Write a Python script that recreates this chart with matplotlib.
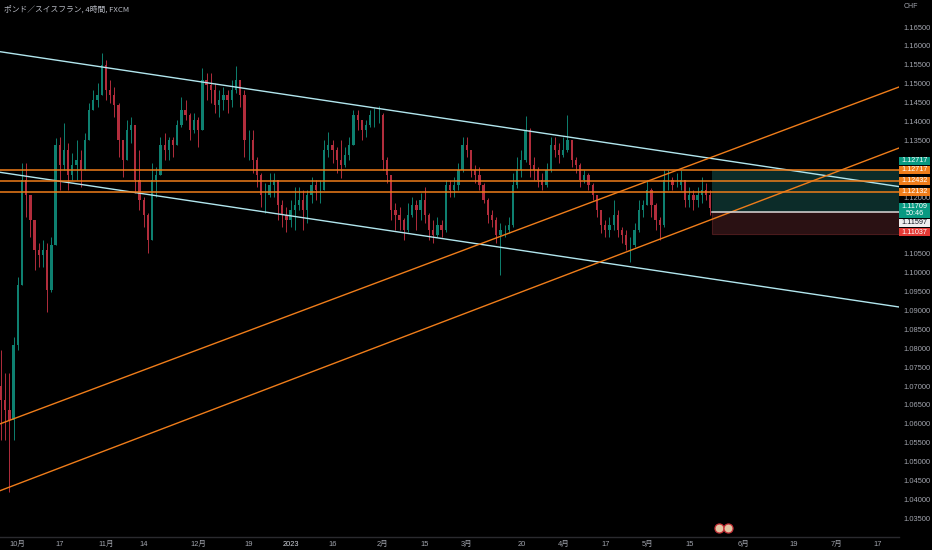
import numpy as np
import pandas as pd
import matplotlib
matplotlib.use('Agg')
import matplotlib.pyplot as plt
from matplotlib.patches import Rectangle

# daily OHLC (GBP/CHF), first bar 2022-09-27
start_day = '2022-09-27'
first_open = 1.0700
high = [1.07955, 1.07347, 1.07347, 1.08299, 1.09886, 1.12902, 1.12902, 1.11923, 1.11209, 1.10786,
        1.10865, 1.10786, 1.10944, 1.13564, 1.13590, 1.13960, 1.13431, 1.13167, 1.13511, 1.13246,
        1.13696, 1.14489, 1.14833, 1.15019, 1.15812, 1.15627, 1.15098, 1.14913, 1.14489, 1.13511,
        1.14040, 1.14119, 1.13907, 1.13246, 1.12003, 1.11579, 1.12902, 1.12796, 1.13590, 1.13696,
        1.13590, 1.13590, 1.14040, 1.14648, 1.14569, 1.14225, 1.14225, 1.14119, 1.15415, 1.15283,
        1.15283, 1.15019, 1.14833, 1.14913, 1.14833, 1.15098, 1.15468, 1.15098, 1.14833, 1.13775,
        1.13775, 1.13061, 1.12638, 1.12373, 1.12638, 1.12638, 1.12452, 1.11923, 1.11738, 1.11923,
        1.12267, 1.12267, 1.12188, 1.12188, 1.12532, 1.12452, 1.12452, 1.13511, 1.13722, 1.13511,
        1.13325, 1.13511, 1.13325, 1.13590, 1.14304, 1.14304, 1.14040, 1.14040, 1.14304, 1.14357,
        1.14410, 1.14225, 1.13061, 1.12585, 1.11844, 1.11738, 1.11447, 1.11844, 1.12003, 1.11923,
        1.12109, 1.12267, 1.11579, 1.11394, 1.11474, 1.11394, 1.12452, 1.12452, 1.12532, 1.12902,
        1.13590, 1.13590, 1.13246, 1.12849, 1.12796, 1.12373, 1.11976, 1.11659, 1.11474, 1.11315,
        1.11262, 1.11474, 1.12638, 1.13061, 1.13246, 1.14146, 1.13828, 1.13061, 1.12796, 1.12638,
        1.12902, 1.13590, 1.13590, 1.13431, 1.13590, 1.14172, 1.13511, 1.13061, 1.12902, 1.12717,
        1.12638, 1.12373, 1.12056, 1.11659, 1.11394, 1.11474, 1.11923, 1.11659, 1.11209, 1.11130,
        1.10944, 1.11315, 1.11923, 1.11923, 1.12452, 1.12241, 1.11844, 1.11474, 1.12717, 1.12717,
        1.12532, 1.12638, 1.12717, 1.12452, 1.12267, 1.12188, 1.12267, 1.12532, 1.12373, 1.12188]
low = [1.05574, 1.05574, 1.04198, 1.05574, 1.07955, 1.09886, 1.11474, 1.10944, 1.10071, 1.10151,
       1.10151, 1.08960, 1.09489, 1.10733, 1.12188, 1.12717, 1.12188, 1.12452, 1.12452, 1.12267,
       1.12717, 1.13511, 1.14304, 1.14384, 1.14701, 1.14569, 1.14489, 1.14119, 1.13061, 1.12532,
       1.12982, 1.13431, 1.12109, 1.11659, 1.11209, 1.10521, 1.10865, 1.12003, 1.12585, 1.12982,
       1.12982, 1.13061, 1.13378, 1.13855, 1.14040, 1.13511, 1.13696, 1.13325, 1.13775, 1.14569,
       1.14489, 1.14225, 1.14119, 1.14304, 1.14225, 1.14384, 1.14754, 1.14384, 1.13061, 1.12982,
       1.12638, 1.12267, 1.11738, 1.11579, 1.12003, 1.12003, 1.11394, 1.11209, 1.11077, 1.11209,
       1.11130, 1.11659, 1.11130, 1.11315, 1.11844, 1.11923, 1.11844, 1.12188, 1.13061, 1.12902,
       1.12638, 1.12505, 1.12796, 1.12982, 1.13378, 1.13775, 1.13511, 1.13590, 1.13855, 1.13855,
       1.13960, 1.12717, 1.12373, 1.11394, 1.11130, 1.11130, 1.10865, 1.11077, 1.11474, 1.11130,
       1.11394, 1.11315, 1.10865, 1.10786, 1.10944, 1.10944, 1.11077, 1.12003, 1.12003, 1.12188,
       1.12664, 1.13061, 1.12532, 1.12373, 1.12188, 1.11844, 1.11315, 1.11209, 1.10786, 1.09939,
       1.10944, 1.11050, 1.11209, 1.12241, 1.12532, 1.12929, 1.12532, 1.12452, 1.12267, 1.12188,
       1.12267, 1.12664, 1.13061, 1.12902, 1.13061, 1.13193, 1.12796, 1.12638, 1.12267, 1.12373,
       1.12188, 1.11923, 1.11474, 1.11050, 1.10944, 1.10944, 1.11130, 1.10944, 1.10786, 1.10601,
       1.10283, 1.10680, 1.11077, 1.11474, 1.11791, 1.11474, 1.11130, 1.10865, 1.11209, 1.12188,
       1.12188, 1.12267, 1.12188, 1.11738, 1.11738, 1.11659, 1.11738, 1.11844, 1.11923, 1.11526]
close = [1.06632, 1.06368, 1.06103, 1.08087, 1.09675, 1.12452, 1.12056, 1.11394, 1.10601, 1.10468,
         1.10601, 1.09542, 1.10733, 1.13378, 1.12849, 1.13246, 1.12585, 1.12849, 1.12982, 1.12717,
         1.13511, 1.14304, 1.14569, 1.14701, 1.15495, 1.14833, 1.14701, 1.14437, 1.13511, 1.12982,
         1.13775, 1.13907, 1.12452, 1.11923, 1.11526, 1.10865, 1.12452, 1.12585, 1.13378, 1.13246,
         1.13511, 1.13378, 1.13907, 1.14304, 1.14172, 1.13775, 1.14040, 1.13775, 1.15098, 1.14966,
         1.14833, 1.14437, 1.14569, 1.14701, 1.14569, 1.14833, 1.15098, 1.14701, 1.13511, 1.13511,
         1.12982, 1.12585, 1.12056, 1.12056, 1.12320, 1.12452, 1.11791, 1.11526, 1.11394, 1.11659,
         1.11791, 1.11923, 1.11659, 1.12056, 1.12320, 1.12188, 1.12188, 1.13246, 1.13378, 1.13246,
         1.12982, 1.12849, 1.13114, 1.13378, 1.14172, 1.14040, 1.13775, 1.13907, 1.14172, 1.14172,
         1.14172, 1.12982, 1.12585, 1.11659, 1.11526, 1.11394, 1.11130, 1.11526, 1.11791, 1.11659,
         1.11923, 1.11526, 1.11130, 1.10997, 1.11262, 1.11130, 1.12320, 1.12188, 1.12320, 1.12717,
         1.13378, 1.13246, 1.12717, 1.12585, 1.12320, 1.11923, 1.11526, 1.11394, 1.10997, 1.11130,
         1.11130, 1.11262, 1.12320, 1.12717, 1.12982, 1.13775, 1.12849, 1.12717, 1.12452, 1.12320,
         1.12717, 1.13378, 1.13246, 1.13114, 1.13246, 1.13511, 1.12982, 1.12849, 1.12452, 1.12585,
         1.12320, 1.12056, 1.11659, 1.11262, 1.11130, 1.11262, 1.11526, 1.11130, 1.10997, 1.10733,
         1.10733, 1.11130, 1.11659, 1.11791, 1.12188, 1.11791, 1.11394, 1.11262, 1.12452, 1.12452,
         1.12320, 1.12320, 1.12452, 1.11923, 1.12056, 1.11923, 1.12056, 1.12188, 1.12056, 1.11709]

# drawn objects (price at left / right edge of the pane)
channel_top = [1.15847, 1.12278]
channel_bottom = [1.12656, 1.09093]
rise_top = [1.06000, 1.14913]
rise_bottom = [1.04233, 1.13299]
levels = [1.12717, 1.12432, 1.12132]
entry, target, stop = 1.11597, 1.12717, 1.11037
last_price = 1.11709

tick_dates = ['2022-10-03', '2022-10-17', '2022-11-01', '2022-11-14', '2022-12-01', '2022-12-19',
              '2023-01-02', '2023-01-16', '2023-02-01', '2023-02-15', '2023-03-01', '2023-03-20',
              '2023-04-03', '2023-04-17', '2023-05-01', '2023-05-15', '2023-06-01', '2023-06-19',
              '2023-07-03', '2023-07-17']
tick_text = ['10月', '17', '11月', '14', '12月', '19', '2023', '16', '2月', '15', '3月', '20',
             '4月', '17', '5月', '15', '6月', '19', '7月', '17']
price_ticks = np.arange(1.035, 1.1651, 0.005)
hidden_ticks = [1.130, 1.125, 1.115, 1.110]   # covered by the price tags

W, H = 932, 550
BG = '#000000'
UP, DOWN = '#0e8070', '#b22d3c'
ORANGE = '#ef7d1a'
CYAN = '#b2e6ee'
TXT = '#a3a6af'
num_font = ['Liberation Sans', 'Noto Sans CJK JP']

fig = plt.figure(figsize=(W / 100, H / 100), dpi=100, facecolor=BG)
ax = fig.add_axes([0, 13 / H, 899 / W, 537 / H])
ax.set_facecolor(BG)

# x positions: business-day index, 0 = 2022-10-03
all_days = pd.bdate_range(start_day, '2023-08-31')
offset = all_days.get_loc(pd.Timestamp('2022-10-03'))
pos = np.arange(len(close)) - offset
x0, x1 = -4.24, 210.0

o = np.array([first_open] + close[:-1])
c = np.array(close)
hi = np.maximum(np.array(high), np.maximum(o, c))
lo = np.minimum(np.array(low), np.minimum(o, c))
col = np.where(c >= o, UP, DOWN)

# position tool box
ax.add_patch(Rectangle((165.4, entry), x1 - 165.4, target - entry, facecolor='#0c2c29',
                       edgecolor='none', zorder=1))
ax.add_patch(Rectangle((165.4, stop), x1 - 165.4, entry - stop, facecolor='#2a1113',
                       edgecolor='#4a1a1c', lw=0.8, zorder=1))

ax.vlines(pos, lo, hi, colors=col, lw=0.7, zorder=2)
ax.bar(pos, np.abs(c - o) + 0.00012, bottom=np.minimum(o, c), width=0.55, color=col,
       zorder=2, linewidth=0)

for ln, colr in [(channel_top, CYAN), (channel_bottom, CYAN), (rise_top, ORANGE), (rise_bottom, ORANGE)]:
    ax.plot([x0, x1], ln, color=colr, lw=1.0, zorder=3)
for lv in levels:
    ax.axhline(lv, color=ORANGE, lw=1.1, zorder=3)
ax.plot([165.4, x1], [entry, entry], color='#d8d8d8', lw=1.1, zorder=3)

ax.set_xlim(x0, x1)
ax.set_ylim(1.030079, 1.172143)

ax.yaxis.tick_right()
ax.set_yticks(price_ticks)
ylabels = ['' if np.isclose(p, hidden_ticks).any() else '%.5f' % p for p in price_ticks]
ax.set_yticklabels(ylabels, family=num_font, fontsize=5.4, color=TXT)
tick_pos = [all_days.get_loc(pd.Timestamp(d)) - offset for d in tick_dates]
ax.set_xticks(tick_pos)
ax.set_xticklabels(tick_text, family=num_font, fontsize=5.4, color=TXT)
ax.get_xticklabels()[6].set_color('#d1d4dc')
ax.tick_params(axis='both', length=0)
ax.tick_params(axis='y', pad=3)
ax.tick_params(axis='x', pad=3)
for s in ['top', 'left', 'right']:
    ax.spines[s].set_visible(False)
ax.spines['bottom'].set_color('#2a2a2e')
ax.spines['bottom'].set_linewidth(1.0)

# event icons
ax.plot([719 / 899, 728 / 899], [9 / 537, 9 / 537], 'o', transform=ax.transAxes, ms=6.5,
        mfc='#e2c6a4', mec='#c8323a', mew=0.9, clip_on=False, zorder=4)

# price scale tags
def tag(yc, h, text, fc, tc):
    fig.add_artist(Rectangle((899 / W, 1 - (yc + h / 2) / H), 31 / W, h / H,
                             transform=fig.transFigure, facecolor=fc, edgecolor='none', zorder=5))
    fig.text(914.5 / W, 1 - yc / H, text, ha='center', va='center', color=tc, fontsize=5.2,
             family=num_font, linespacing=1.0, zorder=6)

tag(160.5, 8, '%.5f' % target, '#089981', 'white')
tag(169.5, 8, '%.5f' % levels[0], ORANGE, 'white')
tag(180.5, 8, '%.5f' % levels[1], ORANGE, 'white')
tag(191.8, 8, '%.5f' % levels[2], ORANGE, 'white')
tag(210.0, 15, '%.5f\n50:46' % last_price, '#089981', 'white')
tag(222.8, 8, '%.5f' % entry, '#eeeeee', '#131722')
tag(232.3, 8, '%.5f' % stop, '#e53935', 'white')

fig.text(4 / W, 1 - 9 / H, 'ポンド／スイスフラン, 4時間, FXCM', ha='left', va='center',
         color='#b8bbc4', fontsize=5.6, family=['Noto Sans CJK JP', 'DejaVu Sans'])
fig.text(904 / W, 1 - 7 / H, 'CHF', ha='left', va='center', color=TXT, fontsize=5.0,
         family=num_font)

fig.savefig('out.png', dpi=100, facecolor=BG)
